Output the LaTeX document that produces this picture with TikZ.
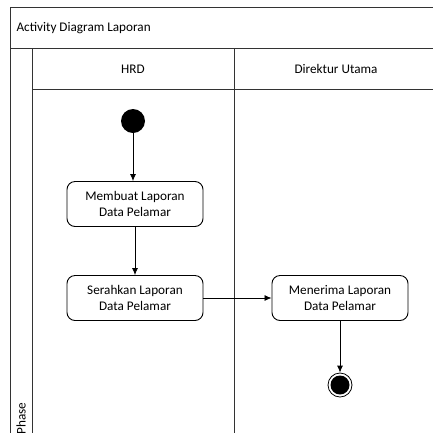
\documentclass[tikz,border=0pt]{standalone}
\usepackage{fontspec}
\setmainfont{Carlito}
\usetikzlibrary{arrows.meta}
\begin{document}
\begin{tikzpicture}[x=1pt,y=-1pt,
  frame/.style={draw=black!80,line width=0.9pt},
  action/.style={draw=black,line width=0.9pt,rounded corners=8pt,fill=white,
    minimum width=136pt,minimum height=45pt,align=center,font=\fontsize{13.2}{15.5}\selectfont,inner sep=2pt},
  flow/.style={draw=black,line width=0.8pt,-{Latex[length=7pt,width=6pt]}},
  lbl/.style={font=\fontsize{13.2}{15.5}\selectfont}]
\useasboundingbox (0,0) rectangle (433,432);
\fill[white] (0,0) rectangle (433,432);
% pool frame and lanes
\draw[frame] (440,7) -- (10,7) -- (10,440);
\draw[frame] (10,48) -- (440,48);
\draw[frame] (32,48) -- (32,440);
\draw[frame] (32,89) -- (440,89);
\draw[frame] (234,48) -- (234,440);
\node[lbl,anchor=west] (title) at (13,28) {Activity Diagram Laporan};
\node[lbl] (hrd) at (133,69) {HRD};
\node[lbl] (dir) at (336,69) {Direktur Utama};
\node[lbl,rotate=90,anchor=east] (phase) at (21,399) {Phase};
% actions
\node[circle,fill=black,minimum size=24pt,inner sep=0pt] (start) at (133,121) {};
\node[action] (a1) at (135,204) {Membuat Laporan\\Data Pelamar};
\node[action] (a2) at (135,298) {Serahkan Laporan\\Data Pelamar};
\node[action] (a3) at (340,298) {Menerima Laporan\\Data Pelamar};
\node[circle,draw=black,line width=0.8pt,fill=white,minimum size=24pt,inner sep=0pt] (end) at (340,385) {};
\node[circle,fill=black,minimum size=19pt,inner sep=0pt] (endin) at (end) {};
% flows
\draw[flow] (start) -- (start |- a1.north);
\draw[flow] (a1) -- (a2);
\draw[flow] (a2) -- (a3);
\draw[flow] (a3) -- (end);
\end{tikzpicture}
\end{document}
